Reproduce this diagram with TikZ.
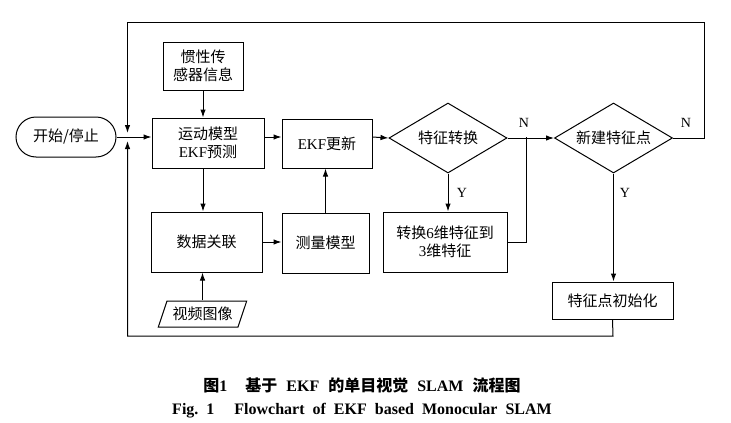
\documentclass[tikz,border=0pt]{standalone}
\usepackage{fontspec}
\setmainfont{Liberation Serif}
\newfontfamily\cj{Noto Sans CJK SC}
\usetikzlibrary{arrows.meta,shapes.geometric,shapes.misc}
\begin{document}
\begin{tikzpicture}[x=1pt,y=-1pt,
  every node/.style={font=\fontsize{15}{18}\selectfont, inner sep=0pt, align=center},
  box/.style={draw, line width=1pt, rectangle},
  dec/.style={draw, line width=1pt, diamond, aspect=1.69, minimum width=118pt, minimum height=70pt},
  lnk/.style={line width=1pt},
  arr/.style={line width=1pt, -{Latex[length=8pt,width=5.5pt]}},
  lbl/.style={font=\fontsize{14}{16}\selectfont}]
\useasboundingbox (0,0) rectangle (731,423);
% nodes
\node[draw, line width=1pt, rounded rectangle, minimum width=100pt, minimum height=40pt] (start) at (66,137) {\cj 开始/停止};
\node[box, minimum width=80pt, minimum height=48pt] (inert) at (203,66) {\cj 惯性传\\\cj 感器信息};
\node[box, minimum width=112pt, minimum height=50pt] (mot) at (208,143) {\cj 运动模型\\EKF\cj 预测};
\node[box, minimum width=90pt, minimum height=49pt] (ekf) at (327,143.5) {EKF\cj 更新};
\node[dec] (d1) at (448,138) {\cj 特征转换};
\node[dec] (d2) at (613.5,138) {\cj 新建特征点};
\node[box, minimum width=111pt, minimum height=60pt] (data) at (206.5,242) {\cj 数据关联};
\node[box, minimum width=87pt, minimum height=60pt] (meas) at (325.5,243) {\cj 测量模型};
\node[box, minimum width=124pt, minimum height=60pt] (conv) at (445,242) {{\cj 转换}6{\cj 维特征到}\\3\cj 维特征};
\node[box, minimum width=121pt, minimum height=37pt] (init) at (612.5,300.5) {\cj 特征点初始化};
\node[draw, line width=1pt, trapezium, trapezium stretches=true, trapezium left angle=62, trapezium right angle=118, minimum width=89pt, minimum height=26pt] (video) at (202.5,314) {\cj 视频图像};
% labels
\node[lbl] (n1) at (524,123) {N};
\node[lbl] (n2) at (686,123) {N};
\node[lbl] (y1) at (462,193) {Y};
\node[lbl] (y2) at (625,193) {Y};
% coordinates
\coordinate (tl) at (127.5,22);
\coordinate (tr) at (704,22);
\coordinate (jn) at (127.5,137);
\coordinate (bl) at (127.5,336);
\coordinate (br) at (613,336);
\coordinate (jx) at (526,137);
% connectors
\draw[arr] (start.east) -- (start.east -| mot.west);
\draw[arr] (inert.south) -- (inert.south |- mot.north);
\draw[arr] (mot.east |- jn) -- (ekf.west |- jn);
\draw[arr] (ekf.east |- jn) -- (d1.west);
\draw[arr] (d1.east) -- (d2.west);
\draw[arr] (d1.south) -- (d1.south |- conv.north);
\draw[lnk] (conv.east) -| (jx);
\draw[arr] (d2.south) -- (d2.south |- init.north);
\draw[arr] (inert.south |- mot.south) -- (inert.south |- data.north);
\draw[arr] (data.east) -- (data.east -| meas.west);
\draw[arr] (meas.north) -- (meas.north |- ekf.south);
\draw[arr] (video.north) -- (video.north |- data.south);
\draw[arr, shorten >=4pt] (d2.east) -| (tr) -- (tl) -- (jn);
\draw[arr, shorten >=4pt] (init.south) -- (br) -- (bl) -- (jn);
% captions
\node[font=\fontsize{16}{18}\selectfont\bfseries] (cap1) at (362,385) {\spaceskip=9pt {\cj 图}1\hspace{18pt}{\cj 基于} EKF {\cj 的单目视觉} SLAM {\cj 流程图}};
\node[font=\fontsize{16}{18}\selectfont\bfseries] (cap2) at (362,411) {\spaceskip=8pt Fig.~1\hspace{20pt}Flowchart of EKF based Monocular SLAM};
\end{tikzpicture}
\end{document}
